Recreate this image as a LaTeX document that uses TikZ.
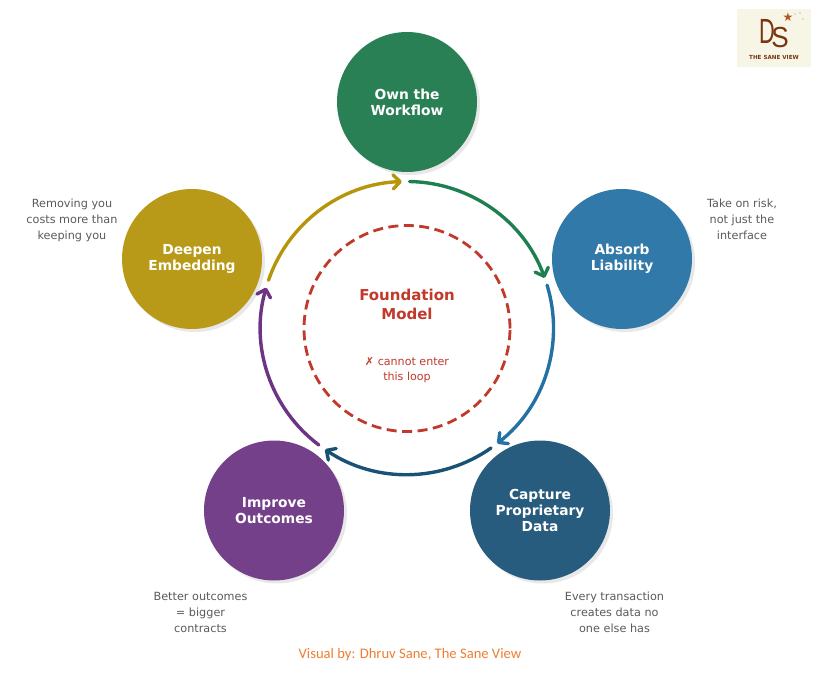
\documentclass[tikz,border=0pt]{standalone}
\usepackage{fontspec}
\setmainfont{DejaVu Sans}
\newfontfamily\footfont{Carlito}
\newfontfamily\logofont{Liberation Sans}
\usetikzlibrary{arrows.meta,calc}
\definecolor{ownfill}{HTML}{2A8055}
\definecolor{absorbfill}{HTML}{3179A9}
\definecolor{capturefill}{HTML}{285C7E}
\definecolor{improvefill}{HTML}{74408A}
\definecolor{deepenfill}{HTML}{B89A18}
\definecolor{ownflow}{HTML}{1E8050}
\definecolor{absorbflow}{HTML}{2471A3}
\definecolor{captureflow}{HTML}{1A5276}
\definecolor{improveflow}{HTML}{6C3483}
\definecolor{deepenflow}{HTML}{B7950B}
\definecolor{signalred}{HTML}{C0392B}
\definecolor{caption}{HTML}{5A5A5A}
\definecolor{footer}{HTML}{ED7D31}
\definecolor{logobg}{HTML}{F7F5E6}
\definecolor{logoink}{HTML}{7A3410}
\definecolor{logostarred}{HTML}{B5561F}
\tikzset{>={Straight Barb[round,length=7pt,width=14pt,line width=3.4pt]},
  stage/.style={circle,minimum size=140pt,inner sep=0pt,align=center,text=white,
    font=\fontsize{13.8}{16}\selectfont\bfseries},
  backdisc/.style={circle,fill=black!9,minimum size=140pt,inner sep=0pt},
  flow/.style={->,line width=3.4pt,line cap=round},
  sidenote/.style={align=center,text=caption,font=\fontsize{11.25}{16}\selectfont}}
\begin{document}
\begin{tikzpicture}[x=1pt,y=1pt]
\useasboundingbox (-407,-349) rectangle (409,328);
% Five stages round the ring, ring centre at the origin.
\foreach \name/\x/\y in {own/0/226,absorb/215/69,capture/133/-182.5,improve/-133/-182.5,deepen/-215/69}{\node[backdisc] (\name back) at (\x+3,\y-3) {};}
\node[stage,fill=ownfill] (own) at (0,226) {Own the\\Workflow};
\node[stage,fill=absorbfill] (absorb) at (215,69) {Absorb\\Liability};
\node[stage,fill=capturefill] (capture) at (133,-182.5) {Capture\\Proprietary\\Data};
\node[stage,fill=improvefill] (improve) at (-133,-182.5) {Improve\\Outcomes};
\node[stage,fill=deepenfill] (deepen) at (-215,69) {Deepen\\Embedding};
\node[sidenote] (deepennote) at (-335,108) {Removing you\\costs more than\\keeping you};
\node[sidenote] (absorbnote) at (335,108.5) {Take on risk,\\not just the\\interface};
\node[sidenote] (improvenote) at (-206.5,-284.5) {Better outcomes\\= bigger\\contracts};
\node[sidenote] (capturenote) at (207.5,-284) {Every transaction\\creates data no\\one else has};
% Arcs between the stages.
\foreach \name/\from/\to/\col in {ownarc/89/20/ownflow,absorbarc/17/-52/absorbflow,capturearc/-55/-124/captureflow,improvearc/233/164/improveflow,deepenarc/161/92/deepenflow}{
  \coordinate (\name) at (\from:146.5);
  \draw[flow,draw=\col] (\name) arc[start angle=\from,end angle=\to,radius=146.5];}
\draw[signalred,line width=2.8pt,dash pattern=on 10pt off 5.5pt] (0,-.5) circle (103);
\node[text=signalred,align=center,font=\fontsize{15}{19}\selectfont\bfseries] (foundation) at (0,24) {Foundation\\Model};
\node[text=signalred,align=center,font=\fontsize{11.1}{15}\selectfont] (cannot) at (0,-42) {✗ cannot enter\\this loop};
\node[text=footer,font=\footfont\fontsize{14.6}{16}\selectfont] (credit) at (3,-327) {Visual by: Dhruv Sane, The Sane View};
% Logo, top right.
\fill[logobg] (330,319) rectangle (404,261);
\node[text=logoink,font=\logofont\fontsize{35}{35}\selectfont,inner sep=0pt,xscale=.62] (logod) at (360,297) {D};
\node[text=logoink,font=\logofont\fontsize{29}{29}\selectfont,inner sep=0pt,xscale=.9] (logos) at (373,290) {S};
\node[text=logostarred,font=\fontsize{12}{12}\selectfont,inner sep=0pt] (logostar) at (381,311) {★};
\node[text=logoink,font=\fontsize{5.6}{6}\selectfont\bfseries,inner sep=0pt] (logotext) at (367,271) {THE SANE VIEW};
\foreach \p in {(388,314),(393,315),(396,309)}{\fill[logoink!60] \p circle (.7);}
\end{tikzpicture}
\end{document}
